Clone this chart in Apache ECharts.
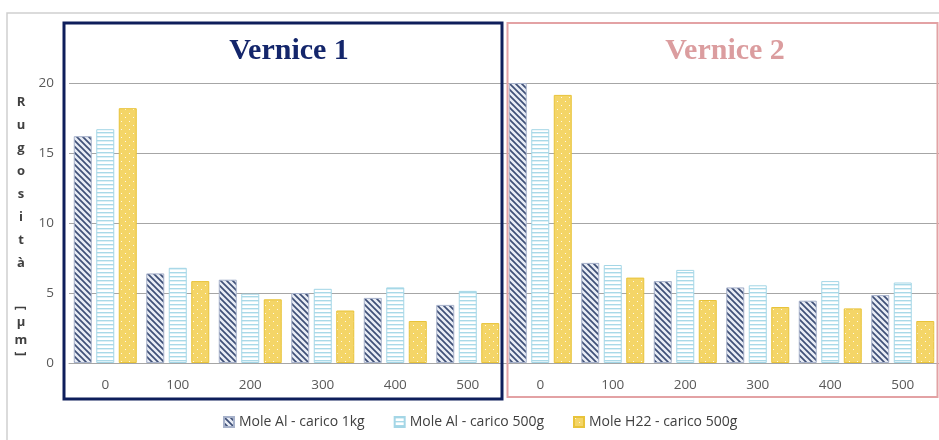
<!DOCTYPE html>
<html>
<head>
<meta charset="utf-8">
<script src="https://cdn.jsdelivr.net/npm/echarts@6/dist/echarts.min.js"></script>
<style>
html,body{margin:0;padding:0;background:#fff;}
#chart{width:939px;height:440px;}
</style>
</head>
<body>
<div id="chart"></div>
<script>
// ---- data ----
var categories = ['0','100','200','300','400','500','0','100','200','300','400','500'];
var seriesNames = ['Mole Al - carico 1kg','Mole Al - carico 500g','Mole H22 - carico 500g'];
var moleAl1kg   = [16.2, 6.4, 5.95, 5.0, 4.65, 4.15, 20.0, 7.15, 5.85, 5.4, 4.45, 4.85];
var moleAl500g  = [16.7, 6.8, 4.95, 5.3, 5.4, 5.15, 16.7, 7.0, 6.65, 5.55, 5.85, 5.75];
var moleH22500g = [18.2, 5.85, 4.55, 3.75, 3.0, 2.85, 19.15, 6.1, 4.5, 4.0, 3.9, 3.0];
var yTicks = [0, 5, 10, 15, 20];
var panelTitles = ['Vernice 1', 'Vernice 2'];

// ---- patterns ----
function makeHatch() {
  var c = document.createElement('canvas'); c.width = 6; c.height = 6;
  var g = c.getContext('2d');
  g.fillStyle = '#E9EDF5'; g.fillRect(0,0,6,6);
  g.strokeStyle = '#3F5078'; g.lineWidth = 1.7;
  g.beginPath();
  g.moveTo(-1,-1); g.lineTo(7,7);
  g.moveTo(-1,5); g.lineTo(1,7);
  g.moveTo(5,-1); g.lineTo(7,1);
  g.stroke();
  return c;
}
function makeHStripe() {
  var c = document.createElement('canvas'); c.width = 4; c.height = 4;
  var g = c.getContext('2d');
  g.fillStyle = '#FFFFFF'; g.fillRect(0,0,4,4);
  g.fillStyle = '#A9D9E8'; g.fillRect(0,0,4,1.4);
  return c;
}
function makeDots() {
  var c = document.createElement('canvas'); c.width = 8; c.height = 8;
  var g = c.getContext('2d');
  g.fillStyle = '#F4D567'; g.fillRect(0,0,8,8);
  g.fillStyle = 'rgba(255,255,255,0.85)';
  g.fillRect(1,1,1,1); g.fillRect(5,5,1,1);
  return c;
}

var chart = echarts.init(document.getElementById('chart'), null, {renderer:'canvas'});

var fontUI = '"Open Sans", "Noto Sans", sans-serif';

var option = {
  animation: false,
  backgroundColor: '#fff',
  grid: { left: 69, top: 83, width: 874, height: 280 },
  legend: {
    left: 218, top: 410,
    icon: 'rect', itemWidth: 10, itemHeight: 10, itemGap: 29, itemTextGap: 2,
    textStyle: { color: '#404040', fontSize: 14, fontFamily: fontUI },
    data: seriesNames
  },
  xAxis: {
    type: 'category', data: categories,
    axisLine: { lineStyle: { color: '#A6A6A6', width: 1 } },
    axisTick: { show: false },
    axisLabel: { color: '#595959', fontSize: 13.5, fontFamily: fontUI, margin: 15 }
  },
  yAxis: {
    type: 'value', min: yTicks[0], max: yTicks[yTicks.length-1], interval: 5,
    axisLine: { show: false }, axisTick: { show: false },
    axisLabel: { color: '#595959', fontSize: 13.5, fontFamily: fontUI, margin: 15 },
    splitLine: { lineStyle: { color: '#A6A6A6', width: 1 } }
  },
  series: [
    { name: seriesNames[0], type: 'bar', data: moleAl1kg, barWidth: 18, barGap: '25%',
      itemStyle: { color: { image: makeHatch(), repeat: 'repeat' }, borderColor: '#A6B1CA', borderWidth: 1 } },
    { name: seriesNames[1], type: 'bar', data: moleAl500g, barWidth: 18, barGap: '25%',
      itemStyle: { color: { image: makeHStripe(), repeat: 'repeat' }, borderColor: '#A4D6E6', borderWidth: 1 } },
    { name: seriesNames[2], type: 'bar', data: moleH22500g, barWidth: 18, barGap: '25%',
      itemStyle: { color: { image: makeDots(), repeat: 'repeat' }, borderColor: '#E8C33A', borderWidth: 1 } }
  ],
  graphic: [
    { type: 'rect', shape: { x: 7, y: 13, width: 1000, height: 1000 }, silent: true, z: -10,
      style: { fill: 'none', stroke: '#CFCFCF', lineWidth: 1.5 } },
    { type: 'rect', shape: { x: 64, y: 23, width: 438, height: 376 }, silent: true, z: 100,
      style: { fill: 'none', stroke: '#0E1E5B', lineWidth: 3 } },
    { type: 'rect', shape: { x: 507.5, y: 23, width: 430, height: 374 }, silent: true, z: 100,
      style: { fill: 'none', stroke: '#E3A2A4', lineWidth: 2 } },
    { type: 'text', x: 289, y: 51, silent: true, z: 101,
      style: { text: panelTitles[0], fill: '#14266B', font: 'bold 30px "Liberation Serif", "Times New Roman", serif', align: 'center', verticalAlign: 'middle' } },
    { type: 'text', x: 725, y: 51, silent: true, z: 101,
      style: { text: panelTitles[1], fill: '#DB9D9F', font: 'bold 30px "Liberation Serif", "Times New Roman", serif', align: 'center', verticalAlign: 'middle' } },
    { type: 'text', x: 21, y: 91, silent: true, z: 101,
      style: { text: 'R\nu\ng\no\ns\ni\nt\nà', fill: '#404040', font: 'bold 13px ' + fontUI, align: 'center', verticalAlign: 'top', lineHeight: 23 } },
    { type: 'text', x: 21, y: 308, rotation: -Math.PI / 2, silent: true, z: 101,
      style: { text: '[', fill: '#404040', font: 'bold 13px ' + fontUI, align: 'center', verticalAlign: 'middle' } },
    { type: 'text', x: 21, y: 322, silent: true, z: 101,
      style: { text: 'μ', fill: '#404040', font: 'bold 13px ' + fontUI, align: 'center', verticalAlign: 'middle' } },
    { type: 'text', x: 21, y: 340, silent: true, z: 101,
      style: { text: 'm', fill: '#404040', font: 'bold 13px ' + fontUI, align: 'center', verticalAlign: 'middle' } },
    { type: 'text', x: 21, y: 354, rotation: -Math.PI / 2, silent: true, z: 101,
      style: { text: ']', fill: '#404040', font: 'bold 13px ' + fontUI, align: 'center', verticalAlign: 'middle' } }
  ]
};
chart.setOption(option);
</script>
</body>
</html>
